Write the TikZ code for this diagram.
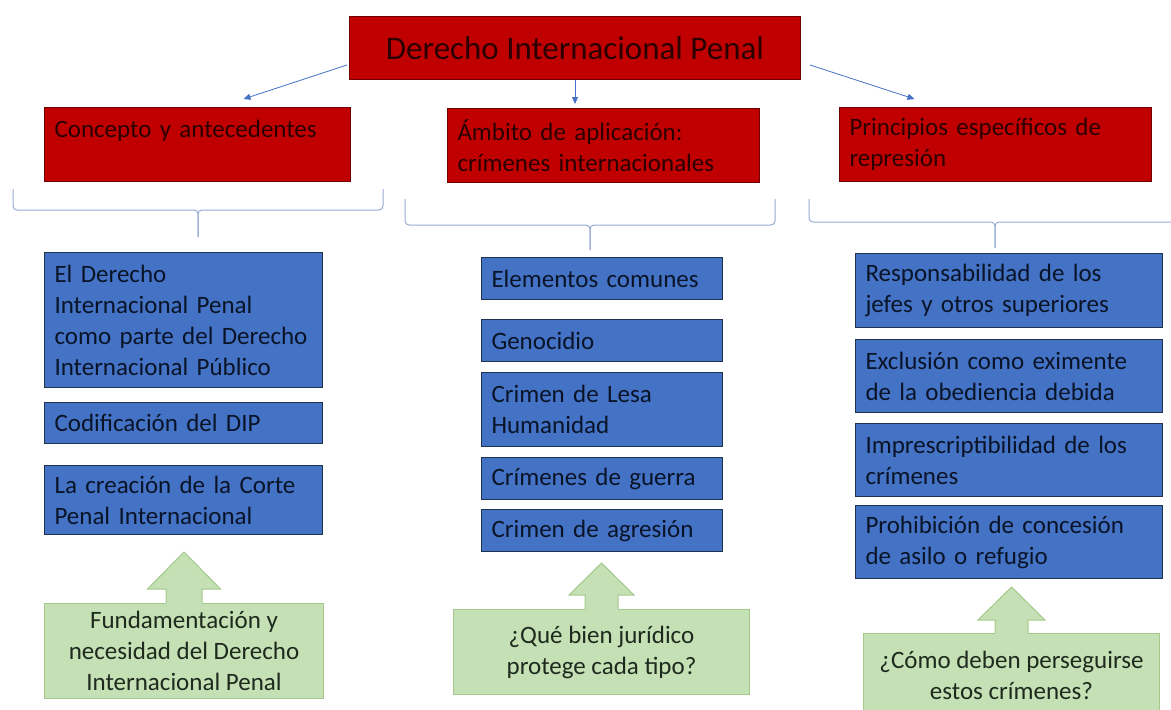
\documentclass[tikz,border=0pt]{standalone}
\usepackage{fontspec}
\setmainfont{Carlito}
\usetikzlibrary{arrows.meta,calc}
\definecolor{redfill}{HTML}{C00000}
\definecolor{redline}{HTML}{6E0000}
\definecolor{redtext}{HTML}{2A0000}
\definecolor{bluefill}{HTML}{4472C4}
\definecolor{blueline}{HTML}{1F3350}
\definecolor{bluetext}{HTML}{0A1428}
\definecolor{greenfill}{HTML}{C5E0B4}
\definecolor{greenline}{HTML}{A3C98C}
\definecolor{greentext}{HTML}{1E2A1E}
\definecolor{bracecol}{HTML}{95AAD2}
\definecolor{arrowcol}{HTML}{4472C4}
\tikzset{
  boxbase/.style={draw, line width=1pt, anchor=north west, inner xsep=10pt, inner ysep=0pt,
    align=left, font=\fontsize{25}{31}\selectfont},
  redbox/.style={boxbase, fill=redfill, draw=redline, text=redtext},
  bluebox/.style={boxbase, fill=bluefill, draw=blueline, text=bluetext},
  greenbox/.style={draw=greenline, fill=greenfill, line width=1pt, anchor=north west,
    inner sep=0pt, align=center, text=greentext, font=\fontsize{25}{31}\selectfont},
  greenarrow/.style={draw=greenline, line width=1pt, line join=miter},
  conn/.style={draw=arrowcol, line width=0.8pt, -{Triangle[length=7pt,width=6pt]}},
  bracestyle/.style={draw=bracecol, line width=1pt, rounded corners=4pt},
}
\begin{document}
\begin{tikzpicture}[x=1pt,y=-1pt]
\useasboundingbox (0,0) rectangle (1171,710);

% title
\node[redbox, align=center, inner xsep=0pt, minimum width=451pt, minimum height=63pt,
  font=\fontsize{33}{38}\selectfont] (title) at (349,16) {Derecho Internacional Penal};

% red category boxes
\node[redbox, text width=286pt, minimum height=74pt] (c1) at (44,107) {Concepto y antecedentes\\\mbox{}};
\node[redbox, text width=292pt, minimum height=74pt] (c2) at (447,108) {Ámbito de aplicación:\\crímenes internacionales};
\node[redbox, text width=292pt, minimum height=74pt] (c3) at (839,107) {Principios específicos de\\represión};

% arrows
\draw[conn] ([xshift=-2pt,yshift=-17pt]title.west) -- ([xshift=46pt,yshift=8pt]c1.north);
\draw[conn] (title.south) -- ([yshift=4pt]title.south |- c2.north);
\draw[conn] ([xshift=9pt,yshift=-17pt]title.east) -- ([xshift=-81pt,yshift=8pt]c3.north);

% braces
\draw[bracestyle] (13,189) -- (13,210) -- (198,210) -- (198,237);
\draw[bracestyle] (383,189) -- (383,210) -- (198,210) -- (198,237);
\draw[bracestyle] (405,199) -- (405,225) -- (590,225) -- (590,250);
\draw[bracestyle] (775,199) -- (775,225) -- (590,225) -- (590,250);
\draw[bracestyle] (809,199) -- (809,222) -- (995,222) -- (995,248);
\draw[bracestyle] (1185,199) -- (1185,222) -- (995,222) -- (995,248);

% left column
\node[bluebox, text width=258pt, minimum height=135pt] (b1) at (44,252)
  {El Derecho\\Internacional Penal\\como parte del Derecho\\Internacional Público};
\node[bluebox, text width=258pt, minimum height=41pt] (b2) at (44,402) {Codificación del DIP};
\node[bluebox, text width=258pt, minimum height=69pt] (b3) at (44,465)
  {La creación de la Corte\\Penal Internacional};

% middle column
\node[bluebox, text width=221pt, minimum height=42pt] (m1) at (481,257) {Elementos comunes};
\node[bluebox, text width=221pt, minimum height=42pt] (m2) at (481,319) {Genocidio};
\node[bluebox, text width=221pt, minimum height=74pt] (m3) at (481,372) {Crimen de Lesa\\Humanidad};
\node[bluebox, text width=221pt, minimum height=42pt] (m4) at (481,457) {Crímenes de guerra};
\node[bluebox, text width=221pt, minimum height=42pt] (m5) at (481,509) {Crimen de agresión};

% right column
\node[bluebox, text width=287pt, minimum height=74pt] (r1) at (855,253)
  {Responsabilidad de los\\jefes y otros superiores};
\node[bluebox, text width=287pt, minimum height=73pt] (r2) at (855,339)
  {Exclusión como eximente\\de la obediencia debida};
\node[bluebox, text width=287pt, minimum height=73pt] (r3) at (855,423)
  {Imprescriptibilidad de los\\crímenes};
\node[bluebox, text width=287pt, minimum height=73pt] (r4) at (855,505)
  {Prohibición de concesión\\de asilo o refugio};

% green callouts
\node[greenbox, minimum width=279pt, minimum height=95pt] (g1) at (44,603)
  {Fundamentación y\\necesidad del Derecho\\Internacional Penal};
\node[greenbox, minimum width=296pt, minimum height=85pt] (g2) at (453,609)
  {¿Qué bien jurídico\\protege cada tipo?};
\node[greenbox, minimum width=296pt, minimum height=84pt, text depth=0pt] (g3) at (863,633)
  {¿Cómo deben perseguirse\\estos crímenes?};

% up arrows on green callouts (shaft half, head half, shaft height, total height)
\foreach \g/\s/\h/\sh/\t in {g1/18/36.5/14/51, g2/16.5/32.5/14/46, g3/16.5/33.5/13/46}{
  \fill[greenfill] ($(\g.north)+(-\s,1.2)$) -- ($(\g.north)+(-\s,-\sh)$) -- ($(\g.north)+(-\h,-\sh)$)
    -- ($(\g.north)+(0,-\t)$) -- ($(\g.north)+(\h,-\sh)$) -- ($(\g.north)+(\s,-\sh)$)
    -- ($(\g.north)+(\s,1.2)$) -- cycle;
  \draw[greenarrow] ($(\g.north)+(-\s,0)$) -- ($(\g.north)+(-\s,-\sh)$) -- ($(\g.north)+(-\h,-\sh)$)
    -- ($(\g.north)+(0,-\t)$) -- ($(\g.north)+(\h,-\sh)$) -- ($(\g.north)+(\s,-\sh)$)
    -- ($(\g.north)+(\s,0)$);
}
\end{tikzpicture}
\end{document}
